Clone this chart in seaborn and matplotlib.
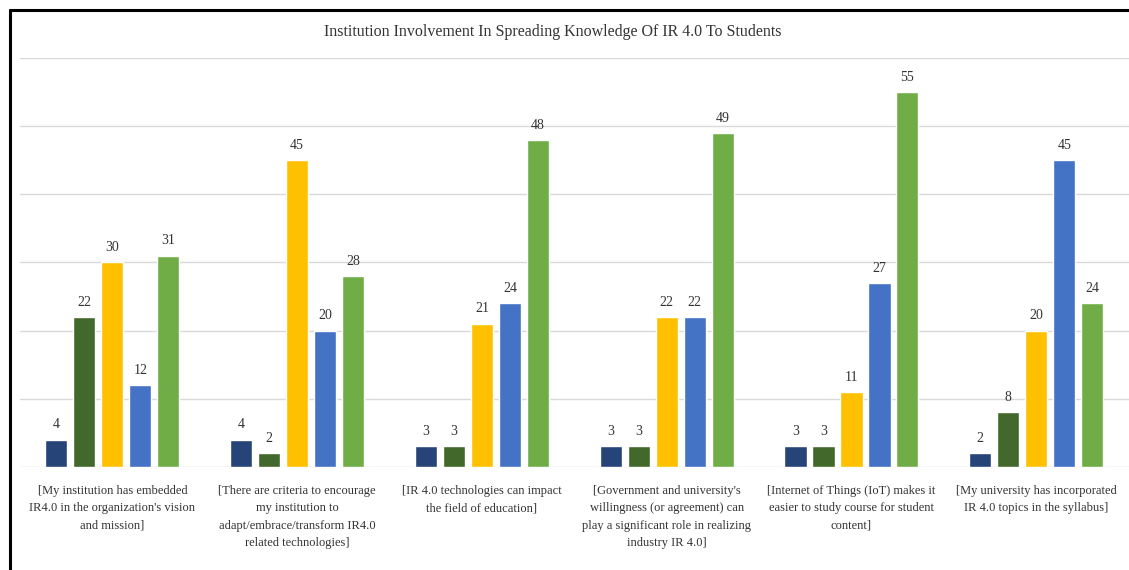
import matplotlib
matplotlib.use("Agg")
import matplotlib.pyplot as plt
from matplotlib.lines import Line2D
import pandas as pd
import seaborn as sns

# Survey statements (x-axis categories)
statements = [
    "[My institution has embedded\nIR4.0 in the organization's vision\nand mission]",
    "[There are criteria to encourage\nmy institution to\nadapt/embrace/transform IR4.0\nrelated technologies]",
    "[IR 4.0 technologies can impact\nthe field of education]",
    "[Government and university's\nwillingness (or agreement) can\nplay a significant role in realizing\nindustry IR 4.0]",
    "[Internet of Things (IoT) makes it\neasier to study course for student\ncontent]",
    "[My university has incorporated\nIR 4.0 topics in the syllabus]",
]

# Response scale
responses = ["Strongly Disagree", "Disagree", "Neutral", "Agree", "Strongly Agree"]

# Counts per response level, one value per statement
strongly_disagree = [4, 4, 3, 3, 3, 2]
disagree = [22, 2, 3, 3, 3, 8]
neutral = [30, 45, 21, 22, 11, 20]
agree = [12, 20, 24, 22, 27, 45]
strongly_agree = [31, 28, 48, 49, 55, 24]

colors = ["#264478", "#43682B", "#FFC000", "#4472C4", "#70AD47"]

series = [strongly_disagree, disagree, neutral, agree, strongly_agree]
rows = []
for resp, vals in zip(responses, series):
    for stmt, v in zip(statements, vals):
        rows.append({"Statement": stmt, "Response": resp, "Count": v})
df = pd.DataFrame(rows)

sns.set_style("white")
plt.rcParams["font.family"] = ["Liberation Serif", "DejaVu Serif"]

fig = plt.figure(figsize=(11.29, 5.70), dpi=100)
ax = fig.add_axes([0.0177, 0.181, 0.982, 0.717])

sns.barplot(
    data=df, x="Statement", y="Count", hue="Response",
    order=statements, hue_order=responses, palette=colors,
    width=0.757, gap=0.21, saturation=1, ax=ax, legend=False,
)

for container in ax.containers:
    ax.bar_label(container, padding=6, fontsize=10, color="#333333")

ax.set_ylim(0, 60)
ax.set_xlim(-0.5, len(statements) - 0.5)
ax.set_yticks(range(0, 61, 10))
ax.yaxis.grid(True, color="#D9D9D9", linewidth=1)
ax.set_axisbelow(True)
ax.set_yticklabels([])
ax.tick_params(axis="y", length=0)
ax.tick_params(axis="x", length=0, pad=13, labelsize=9, labelcolor="#333333")
for lbl in ax.get_xticklabels():
    lbl.set_linespacing(1.6)
ax.set_xlabel("")
ax.set_ylabel("")
for s in ax.spines.values():
    s.set_visible(False)

fig.text(0.49, 1 - 32 / 570, "Institution Involvement In Spreading Knowledge Of IR 4.0 To Students",
         ha="center", va="center", fontsize=11.5, color="#333333")

# Frame edges
fig.add_artist(Line2D([10 / 1129, 10 / 1129], [0, 1 - 10 / 570], color="black", linewidth=2.2,
                      transform=fig.transFigure))
fig.add_artist(Line2D([10 / 1129, 1], [1 - 10 / 570, 1 - 10 / 570], color="black", linewidth=2.2,
                      transform=fig.transFigure))

fig.savefig("out.png", dpi=100)
